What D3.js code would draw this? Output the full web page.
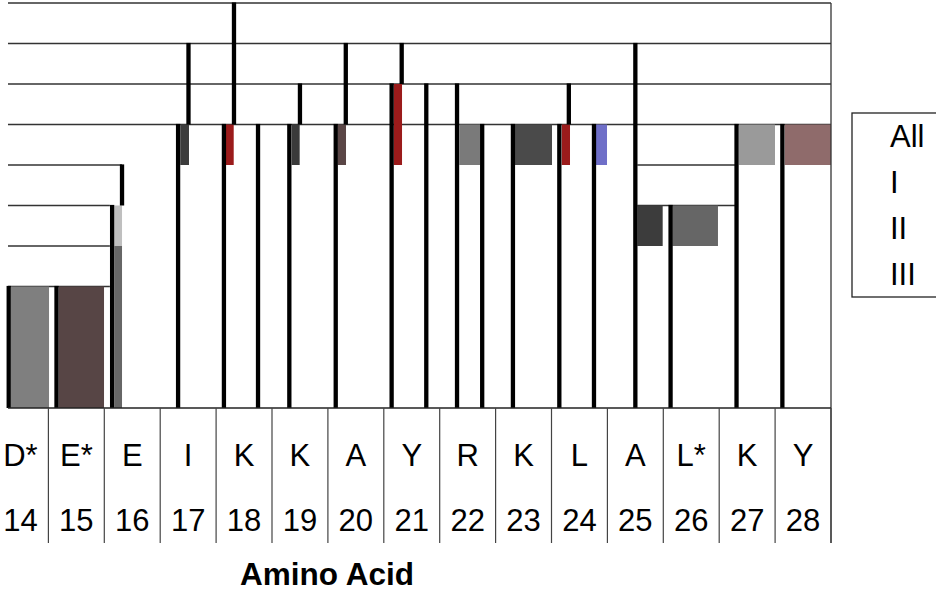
<!DOCTYPE html>
<html>
<head>
<meta charset="utf-8">
<script src="https://cdn.jsdelivr.net/npm/d3@7"></script>
<style>
  body { margin: 0; background: #fff; }
  text { font-family: Arial, "Liberation Sans", sans-serif; fill: #000; }
</style>
</head>
<body>
<div id="chart"></div>
<script>
// residues along the axis
var residues = ["D*", "E*", "E", "I", "K", "K", "A", "Y", "R", "K", "L", "A", "L*", "K", "Y"];
var positions = [14, 15, 16, 17, 18, 19, 20, 21, 22, 23, 24, 25, 26, 27, 28];
var legendNames = ["All", "I", "II", "III"];

// vertical stems: [residue position, from level, to level]
var stems = [
    [13.79, 0, 3], [14.645, 0, 3],
    [15.64, 0, 5], [15.817, 5, 6],
    [16.82, 0, 7], [17.006, 7, 9],
    [17.64, 0, 7], [17.82, 7, 10],
    [18.25, 0, 7],
    [18.81, 0, 7], [19.0, 7, 8],
    [19.64, 0, 7], [19.82, 7, 9],
    [20.64, 0, 8], [20.82, 8, 9],
    [21.26, 0, 8],
    [21.81, 0, 8],
    [22.26, 0, 7],
    [22.81, 0, 7],
    [23.64, 0, 7], [23.81, 7, 8],
    [24.26, 0, 7],
    [25.0, 0, 9],
    [25.63, 0, 5],
    [26.81, 0, 7],
    [27.63, 0, 7]
];

// shaded blocks: [from position, to position, from level, to level]
var blocks = [
    [13.831, 14.511, 0, 3],
    [14.684, 15.495, 0, 3],
    [15.68, 15.817, 4, 5],
    [15.68, 15.817, 0, 4],
    [16.86, 17.015, 6, 7],
    [17.677, 17.815, 6, 7],
    [18.852, 18.995, 6, 7],
    [19.675, 19.824, 6, 7],
    [20.677, 20.826, 6, 8],
    [21.851, 22.221, 6, 7],
    [22.847, 23.509, 6, 7],
    [23.683, 23.831, 6, 7],
    [24.296, 24.493, 6, 7],
    [25.035, 25.489, 4, 5],
    [25.661, 26.478, 4, 5],
    [26.849, 27.498, 6, 7],
    [27.672, 28.5, 6, 7]
];
var blockColors = ["#7f7f7f", "#574545", "#bfbfbf", "#666666", "#3c3c3c", "#9b1b1b",
    "#3a3a3a", "#5a4646", "#9b1b1b", "#7a7a7a", "#4a4a4a", "#9b1b1b", "#6f6fc8",
    "#3c3c3c", "#666666", "#9a9a9a", "#8f6b6b"];

// level lines that show: [level, from position, to position]
var levelLines = [
    [10, 13.777, 28.5], [9, 13.777, 28.5], [8, 13.777, 28.5], [7, 13.777, 28.5],
    [6, 13.777, 15.817], [6, 25.035, 26.81],
    [5, 13.777, 15.6], [5, 25.035, 26.81],
    [4, 13.777, 15.6],
    [3, 13.777, 15.6]
];

var width = 936, height = 596;

var svg = d3.select("#chart").append("svg")
    .attr("width", width)
    .attr("height", height);

var x = d3.scaleLinear().domain([13.5, 28.5]).range([-7.5, 831]);
var band = d3.scaleBand().domain(positions).range([-7.5, 831]).padding(0);
var y = d3.scaleLinear().domain([0, 10]).range([408, 3]);
var stemWidth = 4.3;

/* level lines */
svg.append("g").selectAll("line")
    .data(levelLines)
    .enter().append("line")
    .attr("x1", function (d) { return x(d[1]); })
    .attr("x2", function (d) { return x(d[2]); })
    .attr("y1", function (d) { return y(d[0]); })
    .attr("y2", function (d) { return y(d[0]); })
    .attr("stroke", "#333")
    .attr("stroke-width", 1.3);

/* shaded blocks */
svg.append("g").selectAll("rect")
    .data(blocks)
    .enter().append("rect")
    .attr("x", function (d) { return x(d[0]); })
    .attr("width", function (d) { return x(d[1]) - x(d[0]); })
    .attr("y", function (d) { return y(d[3]); })
    .attr("height", function (d) { return y(d[2]) - y(d[3]); })
    .attr("fill", function (d, i) { return blockColors[i]; });

/* stems */
svg.append("g").selectAll("rect")
    .data(stems)
    .enter().append("rect")
    .attr("x", function (d) { return x(d[0]) - stemWidth / 2; })
    .attr("width", stemWidth)
    .attr("y", function (d) { return y(d[2]) - 0.6; })
    .attr("height", function (d) { return y(d[1]) - y(d[2]) + 0.6; })
    .attr("fill", "#000");

/* right border */
svg.append("line")
    .attr("x1", x(28.5)).attr("x2", x(28.5))
    .attr("y1", y(10)).attr("y2", 543)
    .attr("stroke", "#333").attr("stroke-width", 1.3);

/* axis line and category separators */
svg.append("line")
    .attr("x1", x(13.777)).attr("x2", x(28.5))
    .attr("y1", y(0)).attr("y2", y(0))
    .attr("stroke", "#222").attr("stroke-width", 1.3);

var cats = svg.append("g").selectAll("g")
    .data(positions)
    .enter().append("g")
    .attr("transform", function (d) { return "translate(" + (band(d) + band.bandwidth() / 2) + ",0)"; });

cats.append("line")
    .attr("x1", band.bandwidth() / 2).attr("x2", band.bandwidth() / 2)
    .attr("y1", y(0)).attr("y2", 543)
    .attr("stroke", "#444").attr("stroke-width", 1.2);

cats.append("text")
    .attr("y", 466)
    .attr("text-anchor", "middle")
    .style("font-size", "31px")
    .text(function (d, i) { return residues[i]; });

cats.append("text")
    .attr("y", 531)
    .attr("text-anchor", "middle")
    .style("font-size", "31px")
    .text(function (d) { return d; });

svg.append("text")
    .attr("x", 327)
    .attr("y", 585)
    .attr("text-anchor", "middle")
    .style("font-size", "31.5px")
    .style("font-weight", "bold")
    .text("Amino Acid");

/* legend */
var legend = svg.append("g");
legend.append("rect")
    .attr("x", 852).attr("y", 113)
    .attr("width", 100).attr("height", 184)
    .attr("fill", "#fff")
    .attr("stroke", "#222").attr("stroke-width", 1.3);

legend.selectAll("text")
    .data(legendNames)
    .enter().append("text")
    .attr("x", 890)
    .attr("y", function (d, i) { return 147 + i * 46; })
    .style("font-size", "31px")
    .text(function (d) { return d; });
</script>
</body>
</html>
